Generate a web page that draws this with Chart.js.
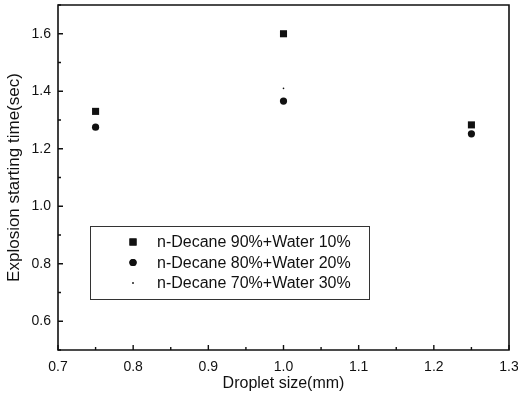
<!DOCTYPE html>
<html><head><meta charset="utf-8">
<script src="https://cdn.jsdelivr.net/npm/chart.js@4/dist/chart.umd.min.js"></script>
<style>html,body{margin:0;padding:0;background:#fff}#wrap{width:518px;height:397px}</style>
</head><body><div id="wrap"><canvas id="c" width="518" height="397"></canvas></div>
<script>
const seriesNames = ['n-Decane 90%+Water 10%', 'n-Decane 80%+Water 20%', 'n-Decane 70%+Water 30%'];
const dropletSize = [0.75, 1.0, 1.25];
const water10 = [1.33, 1.60, 1.283];
const water20 = [1.275, 1.366, 1.252];
const water30 = [null, 1.41, null];
const xTicks = [0.7, 0.8, 0.9, 1.0, 1.1, 1.2, 1.3];
const yTicks = [0.6, 0.8, 1.0, 1.2, 1.4, 1.6];
const xMinor = [0.75, 0.85, 0.95, 1.05, 1.15, 1.25];
const yMinor = [0.5, 0.7, 0.9, 1.1, 1.3, 1.5, 1.7];

function pts(vals){ return dropletSize.map((x,i)=>({x:x,y:vals[i]})).filter(p=>p.y!==null); }

const styles = [
  {pointStyle:'rect', radius:5},
  {pointStyle:'circle', radius:3.6},
  {pointStyle:'circle', radius:0.8}
];

const framePlugin = {
  id:'frame',
  afterDraw(chart){
    const ctx = chart.ctx, a = chart.chartArea;
    const xs = chart.scales.x, ys = chart.scales.y;
    ctx.save();
    ctx.strokeStyle = '#111'; ctx.lineWidth = 1.6;
    ctx.beginPath();
    ctx.rect(a.left, a.top, a.right-a.left, a.bottom-a.top);
    ctx.stroke();
    ctx.lineWidth = 1.4;
    ctx.beginPath();
    xTicks.forEach(v=>{const p=xs.getPixelForValue(v); ctx.moveTo(p,a.bottom); ctx.lineTo(p,a.bottom-5);});
    xMinor.forEach(v=>{const p=xs.getPixelForValue(v); ctx.moveTo(p,a.bottom); ctx.lineTo(p,a.bottom-3);});
    yTicks.forEach(v=>{const p=ys.getPixelForValue(v); ctx.moveTo(a.left,p); ctx.lineTo(a.left+5,p);});
    yMinor.forEach(v=>{const p=ys.getPixelForValue(v); ctx.moveTo(a.left,p); ctx.lineTo(a.left+3,p);});
    ctx.stroke();
    // legend box
    const bx=90, by=226, bw=279, bh=73;
    ctx.lineWidth = 1; ctx.strokeStyle = '#333';
    ctx.strokeRect(bx+0.5, by+0.5, bw, bh);
    ctx.font = '16px "Liberation Sans", Arial, sans-serif';
    ctx.fillStyle = '#111'; ctx.textBaseline = 'middle'; ctx.textAlign = 'left';
    seriesNames.forEach((name,i)=>{
      const cy = by + 16 + i*20.5;
      const st = styles[i];
      Chart.helpers.drawPoint(ctx, {pointStyle:st.pointStyle, radius:st.radius, borderWidth:0, rotation:0}, 133, cy);
      ctx.fillStyle='#111';
      ctx.fill();
      ctx.fillText(name, 157, cy+1);
    });
    ctx.restore();
  }
};

new Chart(document.getElementById('c'), {
  type:'scatter',
  data:{datasets:[water10, water20, water30].map((vals,i)=>({
    label: seriesNames[i], data: pts(vals),
    pointStyle: styles[i].pointStyle, pointRadius: styles[i].radius,
    backgroundColor:'#111', borderColor:'#111', borderWidth:0, showLine:false
  }))},
  options:{
    responsive:false, animation:false, devicePixelRatio:1,
    layout:{padding:{top:5, right:9, left:0, bottom:0}},
    plugins:{legend:{display:false}, tooltip:{enabled:false}},
    scales:{
      x:{type:'linear', min:0.7, max:1.3,
        afterBuildTicks(s){ s.ticks = xTicks.map(v=>({value:v})); },
        afterFit(s){ s.height = 47; s.paddingLeft = 0; s.paddingRight = 0; },
        grid:{display:false, drawTicks:false},
        border:{display:false},
        ticks:{padding:9, color:'#111', font:{family:'"Liberation Sans", Arial, sans-serif', size:14},
          callback:(v)=>Number(v).toFixed(1), maxRotation:0},
        title:{display:true, text:'Droplet size(mm)', color:'#111', padding:{top:0,bottom:4},
          font:{family:'"Liberation Sans", Arial, sans-serif', size:16}}
      },
      y:{type:'linear', min:0.5, max:1.7,
        afterBuildTicks(s){ s.ticks = yTicks.map(v=>({value:v})); },
        afterFit(s){ s.width = 58; s.paddingTop = 0; s.paddingBottom = 0; },
        grid:{display:false, drawTicks:false},
        border:{display:false},
        ticks:{padding:7, color:'#111', font:{family:'"Liberation Sans", Arial, sans-serif', size:14},
          callback:(v)=>Number(v).toFixed(1)},
        title:{display:true, text:'Explosion starting time(sec)', color:'#111', padding:{top:4,bottom:4},
          font:{family:'"Liberation Sans", Arial, sans-serif', size:17}}
      }
    }
  },
  plugins:[framePlugin]
});
</script></body></html>
